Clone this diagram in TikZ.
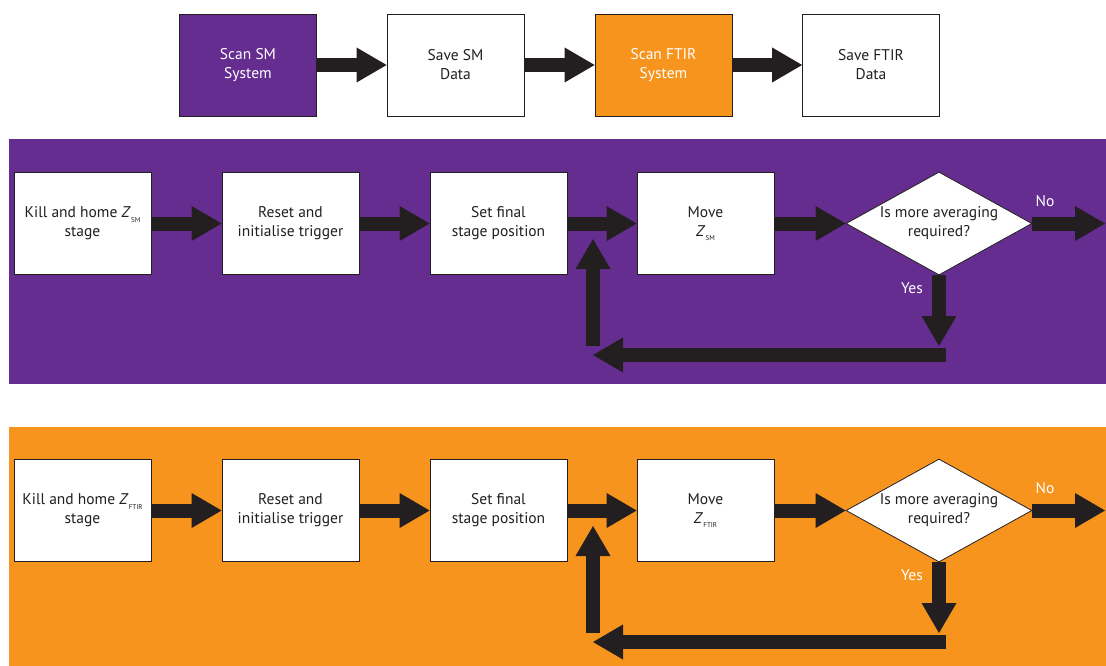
\documentclass[tikz,border=0pt]{standalone}
\usepackage{fontspec}
\setmainfont{PT Sans}
\usetikzlibrary{arrows.meta,shapes.geometric}
\definecolor{purp}{HTML}{662D91}
\definecolor{orng}{HTML}{F7941E}
\definecolor{ink}{HTML}{231F20}
% italic Z with a small upright subscript
\newcommand\zsub[1]{\textit{Z}\kern0.3pt\raisebox{-0.6ex}{\fontsize{7}{7}\selectfont #1}}
% one averaging loop: #1 name prefix, #2 row centre y, #3 subscript
\newcommand\avgloop[3]{%
  \node[stepbox] (#1kill)  at (82.5,#2)  {Kill and home \zsub{#3}\\stage};
  \node[stepbox] (#1reset) at (290.5,#2) {Reset and\\initialise trigger};
  \node[stepbox] (#1final) at (498.5,#2) {Set final\\stage position};
  \node[stepbox] (#1move)  at (705.5,#2) {Move\\\zsub{#3}};
  \node[decision] (#1ask)  at (939,#2)   {Is more averaging\\required?};
  \coordinate (#1noend)  at (1105,#2);
  \coordinate (#1yesend) at (939,{#2+122.5});
  \coordinate (#1backR)  at (946,{#2+131.5});
  \coordinate (#1backL)  at (593,{#2+131.5});
  \coordinate (#1upB)    at (593,{#2+122.5});
  \coordinate (#1upT)    at (593,{#2+15.5});
  \draw[fat] (#1kill) -- (#1reset);
  \draw[fat] (#1reset) -- (#1final);
  \draw[fat] (#1final) -- (#1move);
  \draw[fat] (#1move) -- (#1ask);
  \draw[fat] (#1ask.east) -- (#1noend);
  \draw[fat] (#1ask.south) -- (#1yesend);
  \draw[fat] (#1backR) -- (#1backL);
  \draw[fat] (#1upB) -- (#1upT);
  \node[lbl] (#1no)  at (1045,{#2-22.5}) {No};
  \node[lbl] (#1yes) at (912,{#2+64.5}) {Yes};
}
\begin{document}
\begin{tikzpicture}[x=1pt,y=-1pt,
  every node/.style={font=\fontsize{15.5}{19}\selectfont, text=ink},
  stepbox/.style={draw=ink, line width=0.8pt, fill=white, rectangle,
    minimum width=137pt, minimum height=102pt, inner sep=0pt, align=center},
  decision/.style={draw=ink, line width=0.8pt, fill=white, diamond,
    aspect=1.8, minimum width=186pt, minimum height=103pt, inner sep=0pt, align=center},
  fat/.style={draw=ink, line width=14pt,
    -{Triangle[length=30pt,width=35pt,line width=0pt]}},
  lbl/.style={text=white}]
  \useasboundingbox (0,0) rectangle (1106,666);
  \fill[white] (0,0) rectangle (1106,666);

  % overall sequence
  \node[stepbox, fill=purp, text=white] (scansm)  at (248,65)   {Scan SM\\System};
  \node[stepbox] (savesm)  at (455.5,65) {Save SM\\Data};
  \node[stepbox, fill=orng, text=white] (scanft) at (663.5,65) {Scan FTIR\\System};
  \node[stepbox] (saveft)  at (871,65)   {Save FTIR\\Data};
  \draw[fat] (scansm) -- (savesm);
  \draw[fat] (savesm) -- (scanft);
  \draw[fat] (scanft) -- (saveft);

  % SM scan panel
  \fill[purp] (9,139) rectangle (1106,384);
  \avgloop{sm}{223.5}{SM}

  % FTIR scan panel
  \fill[orng] (9,427) rectangle (1106,666);
  \avgloop{ft}{510.5}{FTIR}
\end{tikzpicture}
\end{document}
